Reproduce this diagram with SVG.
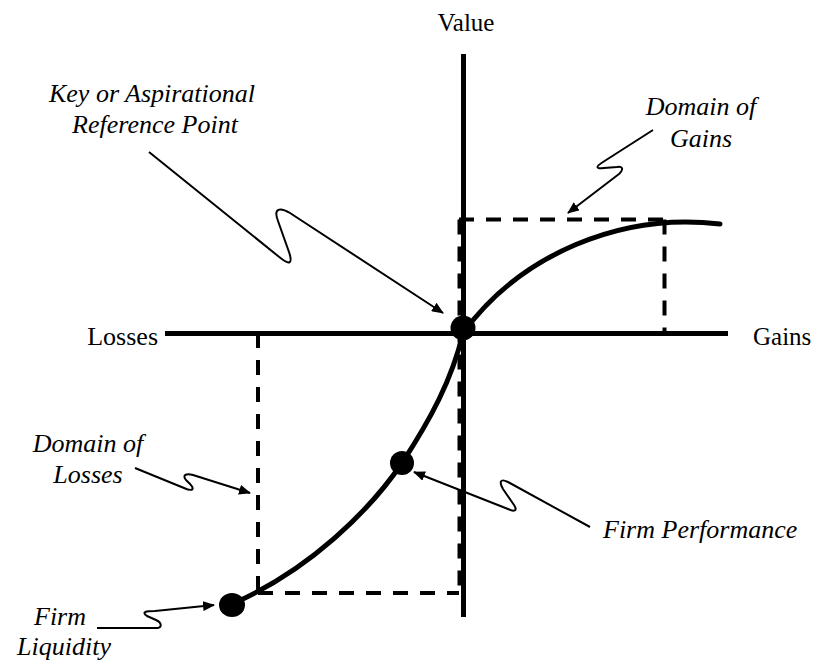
<svg xmlns="http://www.w3.org/2000/svg" width="815" height="662" viewBox="0 0 815 662">
<defs>
<style>
.lbl{font-family:"Liberation Serif","Times New Roman",serif;font-size:25px;fill:#000}
.it{font-family:"Liberation Serif","Times New Roman",serif;font-size:26px;font-style:italic;fill:#000}
.axis{stroke:#000;stroke-width:5;fill:none}
.dash{stroke:#000;stroke-width:4;fill:none;stroke-dasharray:15 12}
.curve{stroke:#000;stroke-width:5;fill:none;stroke-linecap:round}
.conn{stroke:#000;stroke-width:2;fill:none;stroke-linejoin:round}
.dot{fill:#000}
</style>
<marker id="ah" viewBox="0 0 12 10" refX="11" refY="5" markerWidth="12" markerHeight="10" markerUnits="userSpaceOnUse" orient="auto">
<path d="M0,0 L12,5 L0,10 Z" fill="#000"/>
</marker>
</defs>
<rect width="815" height="662" fill="#fff"/>
<g id="axes">
<line class="axis" x1="463.5" y1="54" x2="463.5" y2="617"/>
<line class="axis" x1="165" y1="333.5" x2="728" y2="333.5"/>
<text class="lbl" x="466" y="31" text-anchor="middle">Value</text>
<text class="lbl" x="158" y="345" text-anchor="end" style="font-size:26px">Losses</text>
<text class="lbl" x="753" y="345">Gains</text>
</g>
<g id="domain-boxes">
<line class="dash" x1="459" y1="219.5" x2="667" y2="219.5"/>
<line class="dash" x1="664.5" y1="219.5" x2="664.5" y2="333"/>
<line class="dash" x1="459.5" y1="219.5" x2="459.5" y2="593"/>
<line class="dash" x1="258" y1="333" x2="258" y2="593"/>
<line class="dash" x1="258" y1="593" x2="459" y2="593"/>
</g>
<g id="value-curve">
<path class="curve" d="M232,604 C310,570 370,510 402,463 C430,420 452,380 463,333"/>
<path class="curve" d="M463,333 C520,255 620,212 720,224"/>
</g>
<g id="reference-point">
<circle class="dot" cx="463" cy="328" r="12.5"/>
</g>
<g id="firm-performance-dot">
<circle class="dot" cx="402" cy="463" r="12"/>
</g>
<g id="firm-liquidity-dot">
<ellipse class="dot" cx="232" cy="605" rx="13" ry="12"/>
</g>
<g id="label-key">
<text class="it" x="152" y="102" text-anchor="middle">Key or Aspirational</text>
<text class="it" x="155" y="133" text-anchor="middle">Reference Point</text>
</g>
<g id="label-gains">
<text class="it" x="701" y="115" text-anchor="middle">Domain of</text>
<text class="it" x="701" y="147" text-anchor="middle">Gains</text>
</g>
<g id="label-losses">
<text class="it" x="88" y="452" text-anchor="middle">Domain of</text>
<text class="it" x="88" y="483" text-anchor="middle">Losses</text>
</g>
<g id="label-liquidity">
<text class="it" x="60" y="625" text-anchor="middle">Firm</text>
<text class="it" x="64" y="655" text-anchor="middle">Liquidity</text>
</g>
<g id="label-performance">
<text class="it" x="603" y="538">Firm Performance</text>
</g>
<g id="connectors">
<path class="conn" marker-end="url(#ah)" d="M149,152 L278,256 C290,266 293,264 289,252 L278,221 C273,208 280,207 290,213 L443,313"/>
<path class="conn" marker-end="url(#ah)" d="M653,130 L603,162 C595,167 596,169 604,168 L617,167 C624,166 623,170 619,174 L568,213"/>
<path class="conn" marker-end="url(#ah)" d="M135,468 L184,488 C193,492 195,489 190,484 L186,480 C182,475 186,473 193,475 L250,493"/>
<path class="conn" marker-end="url(#ah)" d="M97,628 L155,628 C163,628 162,623 156,620 L147,616 C141,612 146,611 155,611 L214,605"/>
<path class="conn" marker-end="url(#ah)" d="M590,527 L508,482 C500,478 499,482 503,489 L514,505 C518,511 514,512 508,509 L414,472"/>
</g>
</svg>
